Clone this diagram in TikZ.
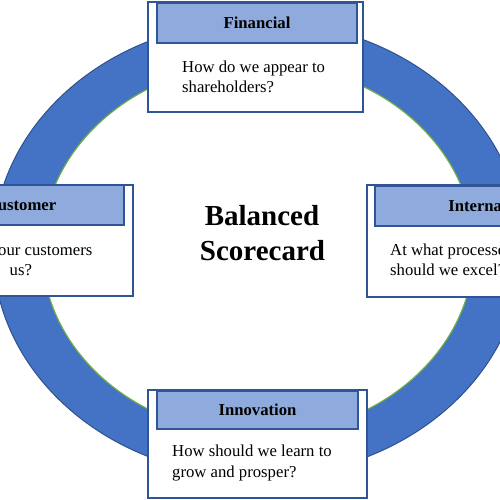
\documentclass[tikz,border=0pt]{standalone}
\usepackage{fontspec}
\setmainfont{Liberation Serif}
\definecolor{ringblue}{HTML}{4472C4}
\definecolor{ringedge}{HTML}{2F528F}
\definecolor{ringgreen}{HTML}{70AD47}
\definecolor{boxedge}{HTML}{2F5597}
\definecolor{headfill}{HTML}{8FAADC}
\begin{document}
\begin{tikzpicture}[x=1pt,y=-1pt,
  cardbox/.style={draw=boxedge, line width=1.3pt, fill=white, inner sep=0pt, rectangle},
  headbox/.style={draw=boxedge, line width=1.3pt, fill=headfill, inner sep=0pt, rectangle,
    font=\bfseries\fontsize{16.7}{20}\selectfont},
  bodytext/.style={anchor=base west, inner sep=0pt, font=\fontsize{16.7}{20}\selectfont},
  titletext/.style={anchor=base, inner sep=0pt, font=\bfseries\fontsize{29}{35}\selectfont}]
\useasboundingbox (0,0) rectangle (500,500);
\clip (0,0) rectangle (500,500);
% ring
\fill[ringblue, even odd rule] (258,249) ellipse [x radius=265pt, y radius=228pt]
  (258,249) ellipse [x radius=216pt, y radius=186pt];
\draw[ringedge, line width=1pt] (258,249) ellipse [x radius=265pt, y radius=228pt];
\draw[ringgreen, line width=1.2pt] (258,249) ellipse [x radius=216pt, y radius=186pt];
% title
\node[titletext] (title1) at (262,225) {Balanced};
\node[titletext] (title2) at (262.5,260) {Scorecard};
% Financial
\node[cardbox, minimum width=215pt, minimum height=110pt] (fincard) at (255.5,57) {};
\node[headbox, minimum width=200pt, minimum height=40pt] (finhead) at (257,23) {Financial};
\node[bodytext] (finq1) at (182,73) {How do we appear to};
\node[bodytext] (finq2) at (182,93) {shareholders?};
% Innovation
\node[cardbox, minimum width=219pt, minimum height=108pt] (inncard) at (257.5,444) {};
\node[headbox, minimum width=201pt, minimum height=38pt] (innhead) at (257.5,410) {Innovation};
\node[bodytext] (innq1) at (172,456.5) {How should we learn to};
\node[bodytext] (innq2) at (172,477.5) {grow and prosper?};
% Customer
\node[cardbox, minimum width=219pt, minimum height=111pt] (cuscard) at (23.5,240.5) {};
\node[headbox, minimum width=206pt, minimum height=40pt] (cushead) at (21,205) {Customer};
\node[bodytext] (cusq1) at (-59.5,255) {How do our customers};
\node[bodytext] (cusq2) at (-70,275) {feel about\hspace{9pt} us?};
% Internal
\node[cardbox, minimum width=219pt, minimum height=112pt] (intcard) at (476.5,241) {};
\node[headbox, minimum width=205pt, minimum height=40pt] (inthead) at (477.5,206) {Internal};
\node[bodytext] (intq1) at (390,255) {At what processes};
\node[bodytext] (intq2) at (390,275) {should we excel?};
\end{tikzpicture}
\end{document}
